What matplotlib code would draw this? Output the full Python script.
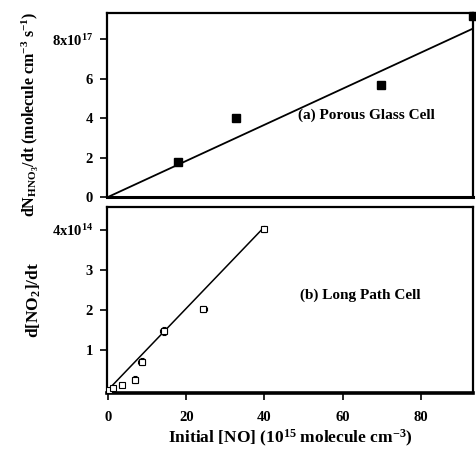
import matplotlib
matplotlib.use("Agg")
import matplotlib.pyplot as plt

plt.rcParams['font.family'] = ['Liberation Serif', 'DejaVu Serif']
plt.rcParams['font.weight'] = 'bold'
plt.rcParams['mathtext.fontset'] = 'custom'
plt.rcParams['mathtext.rm'] = 'Liberation Serif:bold'
plt.rcParams['mathtext.it'] = 'Liberation Serif:bold'
plt.rcParams['mathtext.bf'] = 'Liberation Serif:bold'

# (a) Porous glass cell
no_a = [18.0, 32.6, 69.7, 93.4]
hno3_a = [1.8, 4.0, 5.66, 9.2]
fit_a_x = [0.0, 93.3]
fit_a_y = [0.0, 8.55]

# (b) Long path cell
no_b = [0.3, 1.3, 3.5, 6.9, 8.6, 14.2, 24.4, 39.8]
no2_b = [0.01, 0.05, 0.12, 0.26, 0.71, 1.47, 2.02, 4.03]
xerr_b = [0.5, 0.6, 0.7, 0.7, 0.9, 0.9, 0.9, 0.7]
yerr_b = [0.03, 0.04, 0.05, 0.08, 0.08, 0.1, 0.08, 0.07]
fit_b_x = [0.0, 40.0]
fit_b_y = [0.0, 4.08]

xticks = [0, 20, 40, 60, 80]
xticklabels = ['0', '20', '40', '60', '80']
yticks_a = [0, 2, 4, 6, 8]
yticklabels_a = ['0', '2', '4', '6', r'8x10$^{\mathrm{17}}$']
yticks_b = [1, 2, 3, 4]
yticklabels_b = ['1', '2', '3', r'4x10$^{\mathrm{14}}$']

fig = plt.figure(figsize=(4.76, 4.54), dpi=100)
W, H = 476, 454

def ax_rect(l, t, r, b):
    return [l / W, 1 - b / H, (r - l) / W, (b - t) / H]

ax1 = fig.add_axes(ax_rect(107, 13, 473, 197))
ax2 = fig.add_axes(ax_rect(107, 207, 473, 393))

for ax in (ax1, ax2):
    for s in ax.spines.values():
        s.set_linewidth(1.6)
    ax.set_xlim(-0.25, 93.3)
    ax.set_xticks(xticks)
    ax.tick_params(direction='out', length=5, width=1.2, labelsize=10.5)
    ax.tick_params(axis='y', pad=5)

ax1.spines['bottom'].set_linewidth(2.2)
ax2.spines['bottom'].set_linewidth(2.6)

# Panel (a)
ax1.plot(fit_a_x, fit_a_y, color='black', lw=1.3)
ax1.plot(no_a, hno3_a, 's', color='black', ms=6, clip_on=False, zorder=5)
ax1.set_ylim(0, 9.34)
ax1.set_yticks(yticks_a)
ax1.set_yticklabels(yticklabels_a)
ax1.tick_params(axis='x', labelbottom=False, length=0)
ax1.text(66, 4.16, '(a) Porous Glass Cell', ha='center', va='center', fontsize=11, fontweight='bold')
ax1.set_ylabel(r'dN$_{\mathrm{HNO_3}}$/dt (molecule cm$^{\mathrm{-3}}$ s$^{\mathrm{-1}}$)',
               fontsize=11.5, fontweight='bold')
ax1.yaxis.set_label_coords(-0.18, 0.45)

# Panel (b)
ax2.plot(fit_b_x, fit_b_y, color='black', lw=1.1)
ax2.errorbar(no_b, no2_b, xerr=xerr_b, yerr=yerr_b, fmt='s', mfc='white', mec='black',
             ms=5, mew=0.8, ecolor='black', elinewidth=0.7, capsize=1.5, zorder=5)
ax2.set_ylim(-0.075, 4.575)
ax2.set_yticks(yticks_b)
ax2.set_yticklabels(yticklabels_b)
ax2.set_xticklabels(xticklabels)
ax2.tick_params(axis='x', pad=8)
ax2.text(64.6, 2.37, '(b) Long Path Cell', ha='center', va='center', fontsize=11, fontweight='bold')
ax2.set_ylabel(r'd[NO$_{\mathrm{2}}$]/dt', fontsize=12.5, fontweight='bold')
ax2.yaxis.set_label_coords(-0.175, 0.5)
ax2.set_xlabel(r'Initial [NO] (10$^{\mathrm{15}}$ molecule cm$^{\mathrm{-3}}$)', fontsize=12.5,
               fontweight='bold', labelpad=3)

fig.savefig('out.png', dpi=100)
